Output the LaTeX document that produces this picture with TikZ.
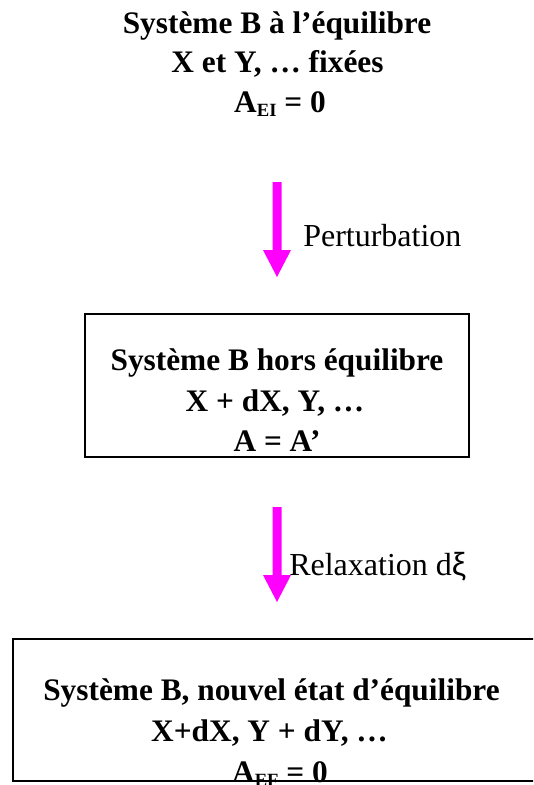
\documentclass[tikz,border=0pt]{standalone}
\usepackage{fontspec}
\setmainfont{Liberation Serif}
\newfontfamily\grkfont{Liberation Sans}
\usetikzlibrary{calc}
\definecolor{mag}{RGB}{255,0,255}
\newcommand\mysub[1]{\raisebox{-3pt}{\fontsize{14}{14}\selectfont #1}}
\begin{document}
\begin{tikzpicture}[x=0.75pt,y=-0.75pt,
  bt/.style={font=\fontsize{23.5}{28}\selectfont\bfseries, anchor=base, inner sep=0pt},
  rt/.style={font=\fontsize{24}{28}\selectfont, anchor=base west, inner sep=0pt},
  frame/.style={draw=black, line width=1.3pt},
  blockarrow/.style={fill=mag, draw=none}]
\useasboundingbox (0,0) rectangle (533,785);
\clip (0,0) rectangle (533,785);

% top state (no frame)
\node[bt] (t1) at (277,33) {Système B à l’équilibre};
\node[bt] (t2) at (277.5,72) {X et Y, … fixées};
\node[bt] (t3) at (280,112) {A\mysub{EI} = 0};

% arrow 1
\coordinate (p1s) at (277,182);
\coordinate (p1e) at (277,277);
\fill[blockarrow] ($(p1s)+(-4.5,0)$) -- ($(p1s)+(4.5,0)$) -- ($(p1e)+(4.5,-27)$) -- ($(p1e)+(14,-27)$) -- (p1e) -- ($(p1e)+(-14,-27)$) -- ($(p1e)+(-4.5,-27)$) -- cycle;
\node[rt] (l1) at (303,246) {Perturbation};

% middle box
\node[frame, minimum width=288pt, minimum height=107.25pt, inner sep=0pt] (midbox) at (277,385.5) {};
\node[bt] (m1) at (277,370) {Système B hors équilibre};
\node[bt] (m2) at (275,411) {X + dX, Y, …};
\node[bt] (m3) at (277,451) {A = A’};

% arrow 2
\coordinate (p2s) at (277,507);
\coordinate (p2e) at (277,602);
\fill[blockarrow] ($(p2s)+(-4.5,0)$) -- ($(p2s)+(4.5,0)$) -- ($(p2e)+(4.5,-27)$) -- ($(p2e)+(14,-27)$) -- (p2e) -- ($(p2e)+(-14,-27)$) -- ($(p2e)+(-4.5,-27)$) -- cycle;
\node[rt] (l2) at (289,575) {Relaxation d{\grkfont ξ}};

% bottom box (right side outside the picture)
\node[bt] (b1) at (271.5,700) {Système B, nouvel état d’équilibre};
\node[bt] (b2) at (269.5,741) {X+dX, Y + dY, …};
\node[bt] (b3) at (280,782) {A\mysub{EF} = 0};
\coordinate (bb1) at (560,639);
\coordinate (bb2) at (13,639);
\coordinate (bb3) at (13,781);
\coordinate (bb4) at (560,781);
\draw[frame] (bb1) -- (bb2) -- (bb3) -- (bb4);
\end{tikzpicture}
\end{document}
